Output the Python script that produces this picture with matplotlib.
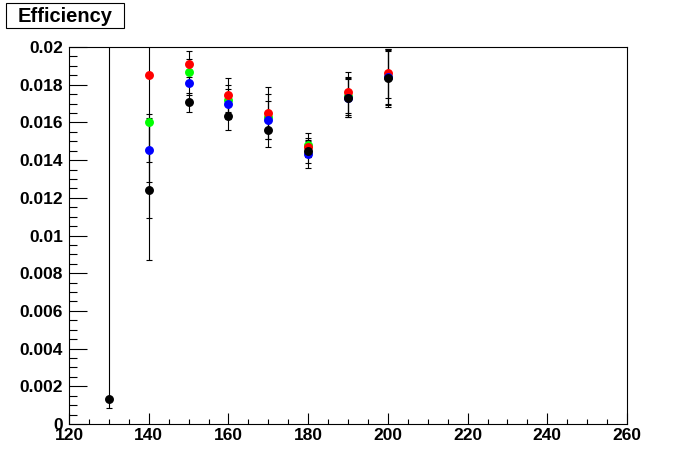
import matplotlib.pyplot as plt
import numpy as np
from matplotlib.patches import Rectangle
from matplotlib.ticker import MultipleLocator, FixedLocator, FixedFormatter

plt.rcParams['font.family'] = ['Liberation Sans', 'DejaVu Sans']
plt.rcParams['font.weight'] = 'bold'

# Data
mass = [130, 140, 150, 160, 170, 180, 190, 200]

eff_green = [np.nan, 0.0160, 0.01866, 0.0172, 0.0163, 0.0148, 0.0174, 0.0184]
err_green_lo = [0, 0.0021, 0.0007, 0.0008, 0.0016, 0.00065, 0.0010, 0.0014]
err_green_hi = [0, 0.00044, 0.0007, 0.0008, 0.0016, 0.00065, 0.0010, 0.0014]

eff_red = [np.nan, 0.01851, 0.0191, 0.01744, 0.0165, 0.01467, 0.0176, 0.0186]
err_red_lo = [0, 0.0076, 0.0007, 0.0009, 0.0010, 0.0005, 0.0011, 0.0013]
err_red_hi = [0, 0.0076, 0.0007, 0.0009, 0.0010, 0.0005, 0.0011, 0.0013]

eff_blue = [np.nan, 0.01453, 0.01807, 0.01696, 0.01611, 0.0143, 0.0173, 0.0184]
err_blue_lo = [0, 0.0017, 0.0006, 0.0008, 0.0010, 0.0007, 0.0010, 0.0015]
err_blue_hi = [0, 0.0017, 0.0006, 0.0008, 0.0010, 0.0007, 0.0010, 0.0015]

eff_black = [0.00135, 0.01241, 0.01707, 0.01632, 0.01558, 0.01447, 0.01728, 0.01834]
err_black_lo = [0.0005, 0.0037, 0.0005, 0.0007, 0.00045, 0.0006, 0.0010, 0.0015]
err_black_hi = [0.025, 0.0037, 0.0005, 0.0007, 0.00045, 0.0006, 0.0011, 0.0015]

y_ticks = [0, 0.002, 0.004, 0.006, 0.008, 0.01, 0.012, 0.014, 0.016, 0.018, 0.02]
y_labels = ['0', '0.002', '0.004', '0.006', '0.008', '0.01', '0.012',
            '0.014', '0.016', '0.018', '0.02']

fig = plt.figure(figsize=(6.96, 4.72), dpi=100)
ax = fig.add_axes([69 / 696, 48 / 472, 558 / 696, 377 / 472])

series = [
    (eff_green, err_green_lo, err_green_hi, '#00ff00'),
    (eff_red, err_red_lo, err_red_hi, '#ff0000'),
    (eff_blue, err_blue_lo, err_blue_hi, '#0000ff'),
    (eff_black, err_black_lo, err_black_hi, '#000000'),
]
for vals, lo, hi, col in series:
    ax.errorbar(mass, vals, yerr=[lo, hi], fmt='o', color=col, ms=5.4,
                ecolor='black', elinewidth=0.8, capsize=2, capthick=0.8)

ax.set_xlim(120, 260)
ax.set_ylim(0, 0.02)
ax.xaxis.set_major_locator(MultipleLocator(20))
ax.xaxis.set_minor_locator(MultipleLocator(5))
ax.yaxis.set_major_locator(FixedLocator(y_ticks))
ax.yaxis.set_major_formatter(FixedFormatter(y_labels))
ax.yaxis.set_minor_locator(MultipleLocator(0.0005))

ax.tick_params(which='both', direction='in', width=0.8, labelsize=12.5)
ax.tick_params(axis='x', which='major', length=8, pad=3)
ax.tick_params(axis='x', which='minor', length=3.8)
ax.tick_params(axis='y', which='major', length=13, pad=4.5)
ax.tick_params(axis='y', which='minor', length=6)
for s in ax.spines.values():
    s.set_linewidth(0.8)

# title box (ROOT style)
fig.patches.append(Rectangle((6 / 696, 1 - 28 / 472), 118 / 696, 25 / 472,
                             transform=fig.transFigure, fc='white', ec='black',
                             lw=0.8))
fig.text(65 / 696, 1 - 16 / 472, 'Efficiency', fontsize=14.5, fontweight='bold',
         va='center', ha='center')

fig.savefig('out.png', dpi=100)
